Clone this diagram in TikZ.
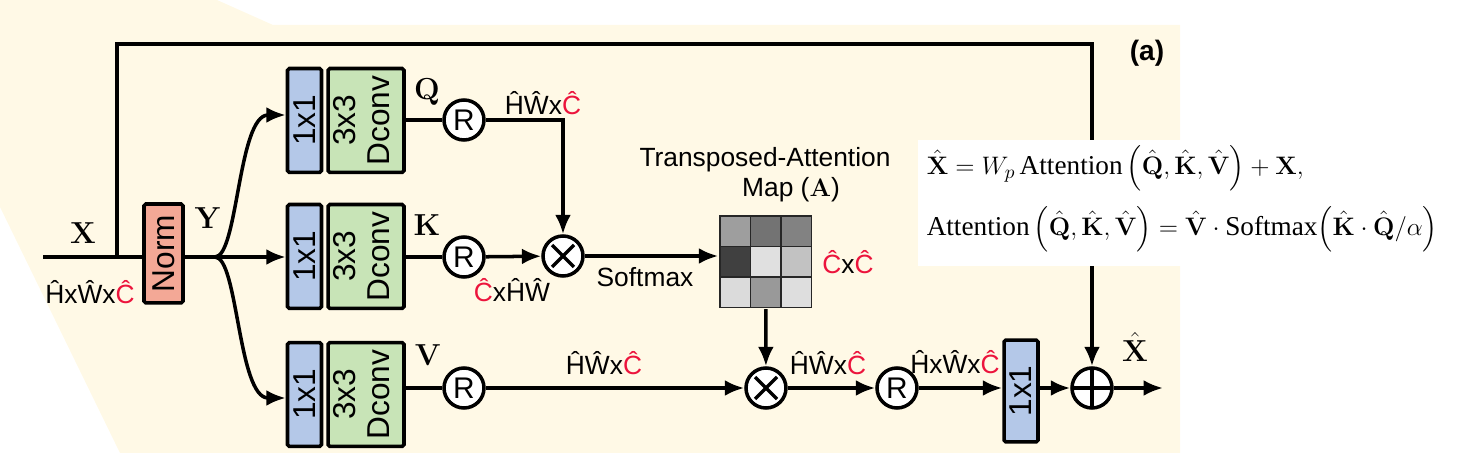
\documentclass[tikz,border=0pt]{standalone}
\usepackage{amsmath}
\usepackage[no-math]{fontspec}
\setmainfont{Liberation Sans}
\newfontfamily\eqfont{Liberation Serif}
\usepackage{tikz}
\usetikzlibrary{arrows.meta,calc}

\definecolor{bgcream}{RGB}{255,249,230}
\definecolor{normred}{RGB}{243,168,150}
\definecolor{convblue}{RGB}{180,200,232}
\definecolor{dconvgreen}{RGB}{200,228,183}
\definecolor{hatred}{RGB}{236,20,60}

\tikzset{
  blk/.style={draw, line width=2pt, rounded corners=1pt, inner sep=0pt, font=\fontsize{18}{19}\selectfont},
  normblk/.style={blk, fill=normred, minimum width=0.78cm, minimum height=1.98cm},
  pwblk/.style={blk, fill=convblue, minimum width=0.68cm, minimum height=2.08cm},
  dwblk/.style={blk, fill=dconvgreen, minimum width=1.52cm, minimum height=2.08cm},
  opnode/.style={draw, circle, line width=2pt, fill=white, minimum size=0.8cm, inner sep=0pt},
  reshape/.style={opnode, font=\fontsize{17}{17}\selectfont},
  mulop/.style={opnode, path picture={
      \draw[line width=2pt] ($(path picture bounding box.center)+(-0.22cm,-0.22cm)$) -- ++(0.44cm,0.44cm);
      \draw[line width=2pt] ($(path picture bounding box.center)+(-0.22cm,0.22cm)$) -- ++(0.44cm,-0.44cm);}},
  addop/.style={opnode, path picture={
      \draw[line width=2pt] (path picture bounding box.north) -- (path picture bounding box.south);
      \draw[line width=2pt] (path picture bounding box.west) -- (path picture bounding box.east);}},
  arr/.style={-{Latex[length=11pt,width=9pt]}},
  lbl/.style={font=\fontsize{15}{16}\selectfont, inner sep=0pt},
  sym/.style={font=\fontsize{19}{19}\selectfont, inner sep=0pt},
  eqn/.style={anchor=west, inner sep=0pt, font=\fontsize{15.5}{17}\selectfont},
}

\begin{document}
\begin{tikzpicture}[x=0.02cm, y=-0.02cm, line width=2pt]
        \useasboundingbox (0,0) rectangle (1458,462);
        % Background
        \fill[bgcream] (0,0) -- (217,0) -- (273,25) -- (1180,25) -- (1180,453) -- (120,453) -- (0,207) -- cycle;

        % Blocks
        \node[normblk] (norm) at (163.5,253.5) {\rotatebox{90}{Norm}};
        \foreach \n/\y in {Q/120.5, K/256.5, V/394.5} {
            \node[pwblk] (p\n) at (304.5,\y) {\rotatebox{90}{1x1}};
            \node[dwblk] (d\n) at (366,\y) {\rotatebox{90}{\begin{tabular}{@{}c@{}}3x3\\Dconv\end{tabular}}};
        }
        \node[reshape] (rQ) at (464,120) {R};
        \node[reshape] (rK) at (464,257) {R};
        \node[reshape] (rV) at (464,388) {R};
        \node[mulop] (mulK) at (563,256) {};
        \node[mulop] (mulV) at (766,388) {};
        \node[reshape] (rO) at (897,388) {R};
        \node[pwblk, minimum height=2.04cm] (pO) at (1021,391) {\rotatebox{90}{1x1}};
        \node[addop] (plus) at (1092,388) {};

        % Attention map
        \foreach \i/\j/\s in {0/0/38, 1/0/55, 2/0/49, 0/1/75, 1/1/12, 2/1/24, 0/2/14, 1/2/40, 2/2/13}
            \filldraw[fill=black!\s, draw=black!85, line width=1pt] ({720+30.5*\i},{216+30.5*\j}) rectangle ++(30.5,30.5);
        \node[minimum width=1.83cm, minimum height=1.83cm, inner sep=0pt] (amap) at (765.75,261.75) {};

        % Connectors
        \coordinate (in) at (43,257);
        \coordinate (skip) at (117,257);
        \coordinate (top) at (117,44);
        \coordinate (split) at (215,257);
        \coordinate (out) at (1163,388);
        \draw (in) -- (norm.west |- in);
        \draw (norm.east |- in) -- (split);
        \draw[arr] (split) .. controls (238,257) and (238,115) .. (pQ.west |- 0,115);
        \draw[arr] (split) -- (pK.west |- split);
        \draw[arr] (split) .. controls (238,257) and (238,398) .. (pV.west |- 0,398);
        \draw (dQ.east |- rQ) -- (rQ);
        \draw (dK.east |- rK) -- (rK);
        \draw (dV.east |- rV) -- (rV);
        \draw[arr] (rQ) -| (mulK);
        \draw[arr] (rK) -- (mulK);
        \draw[arr] (mulK) -- (amap.west |- mulK);
        \draw[arr] (amap.south) -- (mulV);
        \draw[arr] (rV) -- (mulV);
        \draw[arr] (mulV) -- (rO);
        \draw[arr] (rO) -- (pO.west |- rO);
        \draw[arr] (pO.east |- plus) -- (plus);
        \draw[arr] (plus) -- (out);
        \draw[arr] (skip) -- (top) -| (plus);

        % Labels
        \node[sym] (lX) at (83,233) {$\mathbf{X}$};
        \node[lbl] (lin) at (90,292) {ĤxŴx\textcolor{hatred}{Ĉ}};
        \node[sym] (lY) at (208,218) {$\mathbf{Y}$};
        \node[sym] (lQ) at (427,92) {$\mathbf{Q}$};
        \node[sym] (lK) at (427,225) {$\mathbf{K}$};
        \node[sym] (lV) at (428,355) {$\mathbf{V}$};
        \node[lbl] (lq) at (543,103) {ĤŴx\textcolor{hatred}{Ĉ}};
        \node[lbl] (lk) at (512,290) {\textcolor{hatred}{Ĉ}xĤŴ};
        \node[lbl] (lsoft) at (645,277) {Softmax};
        \node[lbl] (ltitle) at (765,160) {Transposed-Attention};
        \node[lbl] (lmap) at (791,190) {Map ($\mathbf{A}$)};
        \node[lbl] (lcc) at (848,262) {\textcolor{hatred}{Ĉ}x\textcolor{hatred}{Ĉ}};
        \node[lbl] (lv) at (604,363) {ĤŴx\textcolor{hatred}{Ĉ}};
        \node[lbl] (lav) at (828,363) {ĤŴx\textcolor{hatred}{Ĉ}};
        \node[lbl] (lre) at (955,362) {ĤxŴx\textcolor{hatred}{Ĉ}};
        \node[sym] (lXh) at (1135,347) {$\hat{\mathbf{X}}$};
        \node[font=\bfseries\fontsize{16}{16}\selectfont, inner sep=0pt] (tag) at (1147,53) {(a)};

        % Equations
        \fill[white] (918,140) rectangle (1458,266);
        \node[eqn] (eqA) at (925,168)
            {$\hat{\mathbf{X}} = W_p\,\text{\eqfont Attention}\,\Big(\hat{\mathbf{Q}},\hat{\mathbf{K}},\hat{\mathbf{V}}\Big) + \mathbf{X},$};
        \node[eqn] (eqB) at (925,229)
            {$\text{\eqfont Attention}\,\Big(\hat{\mathbf{Q}},\hat{\mathbf{K}},\hat{\mathbf{V}}\Big) = \hat{\mathbf{V}}\cdot\text{\eqfont Softmax}\Big(\hat{\mathbf{K}}\cdot\hat{\mathbf{Q}}/\alpha\Big)$};
    \end{tikzpicture}
\end{document}
